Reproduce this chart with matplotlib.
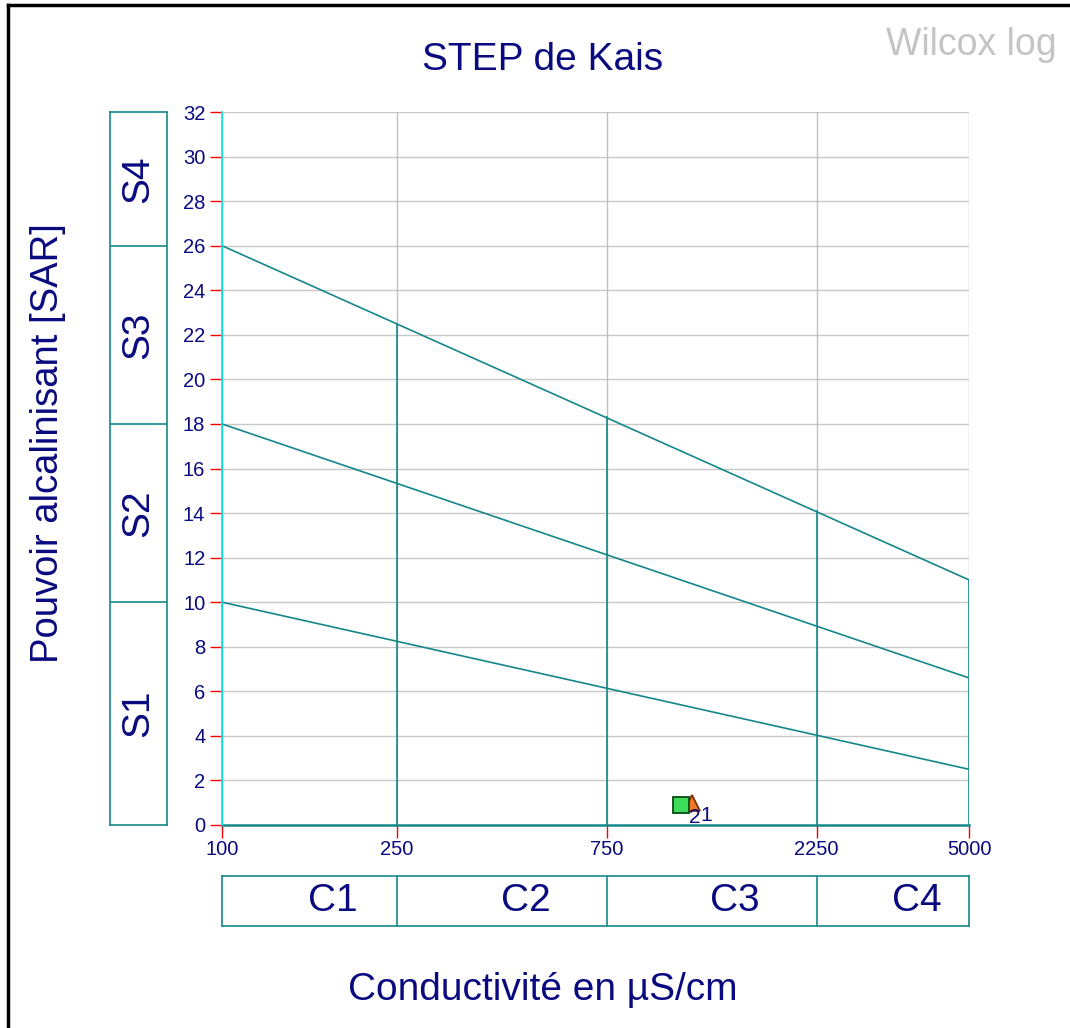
import numpy as np
import matplotlib
matplotlib.use('Agg')
from matplotlib import pyplot as plt
from matplotlib.lines import Line2D

plt.rcParams['font.family'] = ['Liberation Sans', 'DejaVu Sans']

# --- data ---
x_ticks = [100, 250, 750, 2250, 5000]
y_ticks = list(range(0, 33, 2))
# SAR class boundaries (value at 100 and at 5000 uS/cm)
s_lines_left = [10, 18, 26]
s_lines_right = [2.5, 6.6, 11.0]
# vertical class boundaries and their top
c_bounds = [100, 250, 750, 2250, 5000]
c_tops = [26, 22.5, 18.3, 14.1, 11.0]
s_bounds = [0, 10, 18, 26, 32]
s_names = ['S1', 'S2', 'S3', 'S4']
c_names = ['C1', 'C2', 'C3', 'C4']
# samples
sample_ids = ['1', '2']
sample_cond = [1170, 1107]
sample_sar = [0.98, 0.92]
sample_marker = ['^', 's']
sample_face = ['#f07a2a', '#3ddc5a']
sample_edge = ['#7a3000', '#0b4a14']

navy = '#0a0a80'
teal = '#15878a'

fig = plt.figure(figsize=(10.7, 10.28), dpi=100)
ax = fig.add_axes([222/1070, 1-825/1028, 747/1070, 713/1028])
ax.set_xscale('log')
ax.set_xlim(100, 5000)
ax.set_ylim(0, 32)

# grid
for y in y_ticks[1:]:
    ax.axhline(y, color='#c8c8c8', lw=1, zorder=1)
for x in x_ticks:
    ax.axvline(x, color='#c0c0c0', lw=1, zorder=1)

# diagonal SAR boundaries
for a, b in zip(s_lines_left, s_lines_right):
    ax.plot([100, 5000], [a, b], color=teal, lw=1.2, zorder=2)
# vertical conductivity boundaries
for x, top in zip(c_bounds, c_tops):
    ax.plot([x, x], [0, top], color=teal, lw=1.2, zorder=2)
ax.plot([100, 5000], [0, 0], color=teal, lw=1.8, zorder=2, clip_on=False)

for s in ['top', 'right', 'bottom']:
    ax.spines[s].set_visible(False)
ax.spines['left'].set_color('#00e8f0')
ax.spines['left'].set_linewidth(1.2)

ax.set_xticks(x_ticks)
ax.set_xticklabels([str(v) for v in x_ticks])
ax.xaxis.set_minor_locator(matplotlib.ticker.NullLocator())
ax.set_yticks(y_ticks)
ax.tick_params(axis='both', colors='red', length=9, width=1, labelcolor=navy, labelsize=14.5)
ax.tick_params(axis='x', pad=2)
ax.tick_params(axis='y', pad=3)

# samples
for i in range(len(sample_ids)):
    ax.plot(sample_cond[i], sample_sar[i], marker=sample_marker[i], markersize=11,
            markerfacecolor=sample_face[i], markeredgecolor=sample_edge[i],
            markeredgewidth=1.3, linestyle='none', zorder=5 + i, clip_on=False)
for i in range(len(sample_ids)):
    ax.annotate(sample_ids[i], (sample_cond[i], sample_sar[i]), xytext=(6, -9),
                textcoords='offset points', color=navy, fontsize=15,
                ha='left', va='center', zorder=8)

# S class boxes
axs = fig.add_axes([110/1070, 1-825/1028, 57/1070, 713/1028])
axs.set_xlim(0, 1)
axs.set_ylim(0, 32)
axs.set_xticks([])
axs.set_yticks([])
for s in axs.spines.values():
    s.set_color(teal)
    s.set_linewidth(1.2)
for b in s_bounds[1:-1]:
    axs.axhline(b, color=teal, lw=1.2)
for i, name in enumerate(s_names):
    axs.text(0.5, (s_bounds[i] + s_bounds[i + 1]) / 2, name, rotation=90,
             ha='center', va='center', color=navy, fontsize=28)

# C class boxes
axc = fig.add_axes([222/1070, 1-926/1028, 747/1070, 50/1028])
axc.set_xscale('log')
axc.set_xlim(100, 5000)
axc.set_ylim(0, 1)
axc.set_xticks([])
axc.set_yticks([])
axc.xaxis.set_minor_locator(matplotlib.ticker.NullLocator())
for s in axc.spines.values():
    s.set_color(teal)
    s.set_linewidth(1.2)
for b in c_bounds[1:-1]:
    axc.axvline(b, color=teal, lw=1.2)
for i, name in enumerate(c_names):
    xc = np.sqrt(c_bounds[i] * c_bounds[i + 1])
    axc.annotate(name, (xc, 0.5), xytext=(17, 0), textcoords='offset points',
                 ha='center', va='center', color=navy, fontsize=28)

# texts
fig.text(543/1070, 1-60/1028, 'STEP de Kais', ha='center', va='center', color=navy, fontsize=28)
fig.text(1057/1070, 1-45/1028, 'Wilcox log', ha='right', va='center', color='#c4c4c4', fontsize=27)
fig.text(48/1070, 1-443/1028, 'Pouvoir alcalinisant [SAR]', rotation=90, ha='center', va='center',
         color=navy, fontsize=27.5)
fig.text(543/1070, 1-990/1028, 'Conductivité en µS/cm', ha='center', va='center', color=navy, fontsize=28)

# figure frame (top and left only)
fig.add_artist(Line2D([8/1070, 8/1070], [0, 1-5/1028], color='black', lw=2.5, transform=fig.transFigure))
fig.add_artist(Line2D([8/1070, 1], [1-5/1028, 1-5/1028], color='black', lw=2.5, transform=fig.transFigure))

plt.savefig('out.png', dpi=100)
plt.close()
